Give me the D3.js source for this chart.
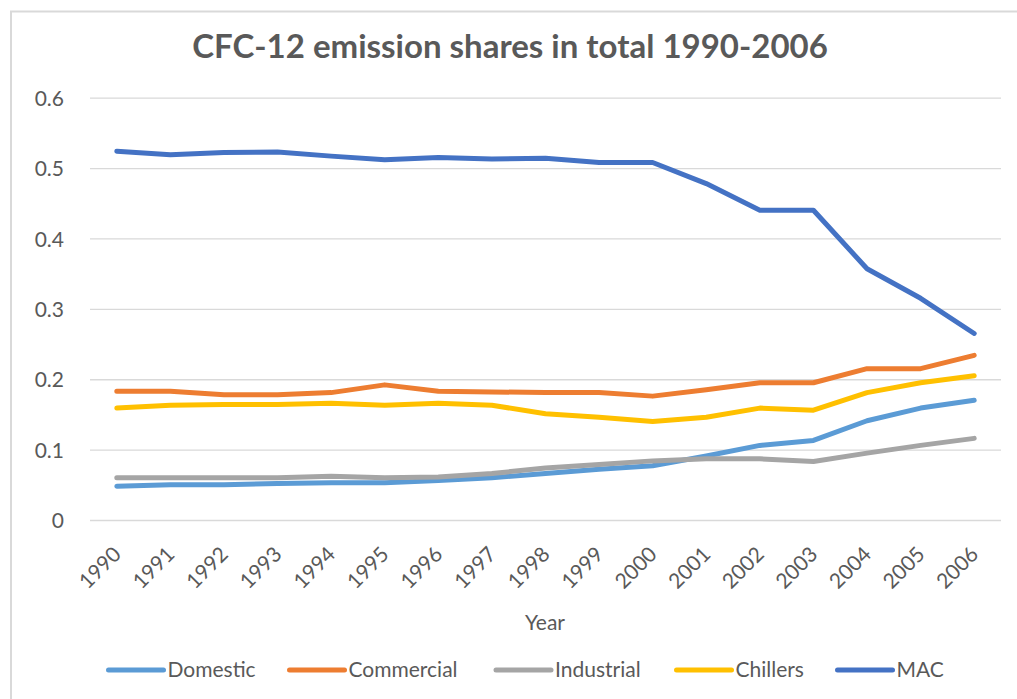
<!DOCTYPE html>
<html>
<head>
<meta charset="utf-8">
<script src="https://cdn.jsdelivr.net/npm/d3@7"></script>
<style>
  body { margin: 0; background: #fff; }
  svg text { font-family: Lato, "Open Sans", sans-serif; fill: #595959; }
</style>
</head>
<body>
<div id="chart-area"></div>
<script>
// DATA
var years = ["1990", "1991", "1992", "1993", "1994", "1995", "1996", "1997", "1998",
             "1999", "2000", "2001", "2002", "2003", "2004", "2005", "2006"];
var yTicks = [0, 0.1, 0.2, 0.3, 0.4, 0.5, 0.6];

var domestic   = [0.048, 0.050, 0.050, 0.052, 0.053, 0.053, 0.056, 0.060, 0.066, 0.072, 0.077, 0.091, 0.106, 0.113, 0.141, 0.159, 0.170];
var commercial = [0.183, 0.183, 0.178, 0.178, 0.181, 0.192, 0.183, 0.182, 0.181, 0.181, 0.176, 0.185, 0.195, 0.195, 0.215, 0.215, 0.234];
var industrial = [0.060, 0.060, 0.060, 0.060, 0.062, 0.060, 0.061, 0.066, 0.074, 0.079, 0.084, 0.087, 0.087, 0.083, 0.095, 0.106, 0.116];
var chillers   = [0.159, 0.163, 0.164, 0.164, 0.166, 0.163, 0.166, 0.163, 0.151, 0.146, 0.140, 0.146, 0.159, 0.156, 0.181, 0.195, 0.205];
var mac        = [0.524, 0.519, 0.522, 0.523, 0.517, 0.512, 0.515, 0.513, 0.514, 0.508, 0.508, 0.478, 0.440, 0.440, 0.357, 0.315, 0.265];

var seriesNames  = ["Domestic", "Commercial", "Industrial", "Chillers", "MAC"];
var seriesValues = [domestic, commercial, industrial, chillers, mac];
var seriesColors = ["#5B9BD5", "#ED7D31", "#A5A5A5", "#FFC000", "#4472C4"];

var width = 1017, height = 699;

var svg = d3.select("#chart-area")
    .append("svg")
    .attr("width", width)
    .attr("height", height);

// chart border
svg.append("rect")
    .attr("x", 11).attr("y", 11.5)
    .attr("width", 1100).attr("height", 800)
    .attr("fill", "none")
    .attr("stroke", "#D9D9D9")
    .attr("stroke-width", 2);

// SCALES
var x = d3.scalePoint()
    .domain(years)
    .range([90, 1001])
    .padding(0.5);

var y = d3.scaleLinear()
    .domain([0, 0.6])
    .range([520, 97.7]);

// Y AXIS + gridlines
var yAxisGroup = svg.append("g")
    .attr("transform", "translate(90, 0)")
    .call(d3.axisLeft(y).tickValues(yTicks).tickSize(-911).tickPadding(26).tickFormat((d) => d));
yAxisGroup.select(".domain").remove();
yAxisGroup.selectAll("line")
    .attr("stroke", "#D9D9D9")
    .attr("stroke-width", 1.3);
yAxisGroup.selectAll("text")
    .attr("font-size", "21px")
    .attr("dy", "0.36em");

// X AXIS
var xAxisGroup = svg.append("g")
    .attr("transform", "translate(0, 520)")
    .call(d3.axisBottom(x).tickSize(0));
xAxisGroup.select(".domain").remove();
xAxisGroup.selectAll("text")
    .attr("font-size", "21px")
    .attr("text-anchor", "end")
    .attr("x", 0).attr("y", 0).attr("dy", 0)
    .attr("transform", "translate(5, 35.6) rotate(-45)");

// LINES
var line = d3.line()
    .x((d, i) => x(years[i]))
    .y((d) => y(d));

seriesValues.forEach((vals, k) => {
    svg.append("path")
        .datum(vals)
        .attr("d", line)
        .attr("fill", "none")
        .attr("stroke", seriesColors[k])
        .attr("stroke-width", 5)
        .attr("stroke-linecap", "round")
        .attr("stroke-linejoin", "round");
});

// TITLE
svg.append("text")
    .attr("x", 510)
    .attr("y", 58)
    .attr("text-anchor", "middle")
    .attr("font-size", "33px")
    .attr("font-weight", "bold")
    .text("CFC-12 emission shares in total 1990-2006");

// X label
svg.append("text")
    .attr("x", 545)
    .attr("y", 630)
    .attr("text-anchor", "middle")
    .attr("font-size", "21px")
    .text("Year");

// LEGEND
var legendX = [108.5, 289.5, 496, 676.5, 837.5];
var legend = svg.append("g");
seriesNames.forEach((name, k) => {
    var item = legend.append("g").attr("transform", "translate(" + legendX[k] + ", 670)");
    item.append("line")
        .attr("x1", 0).attr("x2", 55)
        .attr("y1", 0).attr("y2", 0)
        .attr("stroke", seriesColors[k])
        .attr("stroke-width", 5)
        .attr("stroke-linecap", "round");
    item.append("text")
        .attr("x", 59)
        .attr("y", 7)
        .attr("font-size", "21px")
        .text(name);
});
</script>
</body>
</html>
